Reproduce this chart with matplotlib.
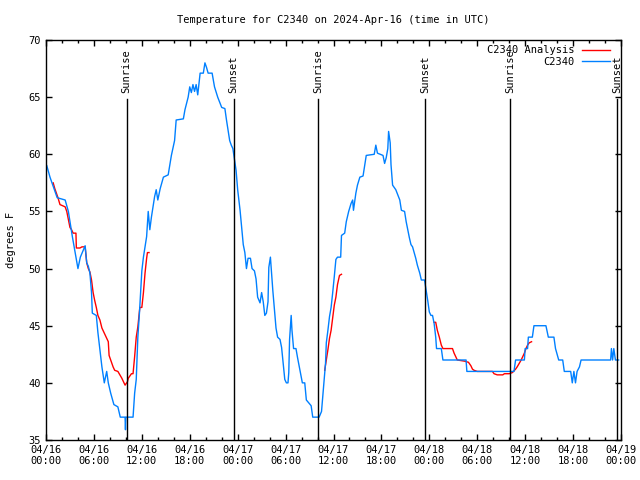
import numpy as np
import matplotlib
matplotlib.use("Agg")
import matplotlib.pyplot as plt

nan = np.nan

# --- data (hours since 2024-04-16 00:00 UTC, degrees F) ---
obs_hours = [0.1, 0.5, 0.9, 1.4, 2.4, 2.8, 3.3, 3.6, 4.0, 4.3, 4.9, 5.1, 5.3, 5.5, 5.7, 5.8,
             6.3, 6.5, 6.8, 7.0, 7.3, 7.6, 7.8, 8.1, 8.5, 9.0, 9.3, 9.9, 9.95, 10.0, 10.9,
             11.1, 11.3, 11.5, 11.7, 12.0, 12.2, 12.6, 12.8, 13.0, 13.2, 13.6, 13.8, 14.0,
             14.3, 14.7, 15.3, 15.7, 16.1, 16.3, 17.2, 17.4, 17.8, 18.0, 18.2, 18.4, 18.6,
             18.8, 19.0, 19.3, 19.7, 19.9, 20.1, 20.3, 20.8, 21.1, 21.5, 22.0, 22.4, 22.6,
             23.0, 23.2, 23.4, 23.8, 24.0, 24.3, 24.5, 24.7, 24.9, 25.1, 25.3, 25.6, 25.8,
             26.1, 26.3, 26.5, 26.8, 27.0, 27.2, 27.4, 27.6, 27.8, 27.9, 28.1, 28.2, 28.4,
             28.6, 28.8, 29.0, 29.3, 29.5, 29.7, 29.9, 30.1, 30.3, 30.4, 30.5, 30.7, 30.8,
             31.0, 31.3, 31.5, 31.8, 32.1, 32.4, 32.6, 33.2, 33.4, 34.2, 34.5, 34.8, 35.0,
             35.1, 35.3, 35.5, 35.7, 35.9, 36.1, 36.3, 36.5, 36.9, 37.0, 37.4, 37.6, 37.9,
             38.2, 38.4, 38.5, 38.8, 39.0, 39.3, 39.7, 40.1, 41.1, 41.3, 41.5, 42.2, 42.4,
             42.6, 42.8, 42.9, 43.1, 43.2, 43.4, 43.8, 44.3, 44.5, 44.9, 45.1, 45.3, 45.5,
             45.7, 45.9, 46.1, 46.3, 46.5, 46.8, 47.0, 47.4, 47.6, 47.8, 48.0, 48.2, 48.4,
             48.6, 48.8, 48.9, 49.5, 49.7, 52.6, 52.7, 58.6, 58.8, 59.9, 60.0, 60.3, 60.4,
             60.9, 61.1, 62.6, 62.9, 63.6, 63.8, 64.2, 64.7, 64.9, 65.7, 65.9, 66.1, 66.3,
             66.5, 66.8, 67.0, 70.7, 70.8, 70.95, 71.1, 71.3, 71.7]
obs_temps = [59.0, 58.0, 57.2, 56.2, 56.0, 55.0, 52.8, 51.6, 50.0, 51.0, 52.0, 50.5, 50.2, 49.6, 47.9, 46.1,
             45.9, 44.4, 42.6, 41.4, 40.0, 41.0, 40.0, 39.1, 38.1, 37.9, 37.0, 37.0, 35.9, 37.0, 37.0,
             39.1, 40.3, 44.0, 46.1, 49.8, 51.0, 52.8, 55.0, 53.4, 54.5, 56.3, 56.9, 56.0,
             57.0, 58.0, 58.2, 59.9, 61.2, 63.0, 63.1, 63.9, 65.0, 65.9, 65.4, 66.1, 65.5,
             66.1, 65.2, 67.1, 67.1, 68.0, 67.6, 67.1, 67.1, 65.9, 65.0, 64.1, 64.0, 63.0,
             61.2, 60.8, 60.5, 58.6, 56.9, 55.1, 53.6, 52.1, 51.4, 50.0, 50.9, 50.9, 50.0,
             49.8, 49.1, 47.5, 47.0, 47.9, 47.1, 45.9, 46.1, 47.1, 50.1, 51.0, 50.0, 48.1,
             46.4, 44.8, 44.0, 43.8, 43.1, 41.7, 40.3, 40.0, 40.0, 40.9, 43.8, 45.9, 44.6,
             43.0, 43.0, 42.2, 41.1, 40.0, 40.0, 38.5, 38.0, 37.0, 37.0, 37.5, 40.0, 41.7,
             43.5, 44.6, 45.8, 46.6, 47.9, 49.3, 50.8, 51.0, 51.0, 52.9, 53.1, 54.1, 55.0,
             55.7, 56.0, 55.1, 56.6, 57.3, 58.0, 58.1, 59.9, 60.0, 60.8, 60.1, 59.9, 59.2,
             59.7, 60.5, 62.0, 61.0, 59.1, 57.3, 56.9, 56.0, 55.1, 55.0, 54.1, 53.4, 52.7,
             52.1, 51.9, 51.4, 50.9, 50.3, 49.6, 49.0, 49.0, 48.1, 47.2, 46.2, 45.9, 45.9,
             45.2, 44.0, 43.0, 43.0, 42.0, 42.0, 41.0, 41.0, 42.0, 42.0, 43.0, 43.0, 44.0,
             44.0, 45.0, 45.0, 44.0, 44.0, 43.0, 42.0, 42.0, 41.0, 41.0, 40.0, 41.0, 40.0,
             41.0, 41.4, 42.0, 42.0, 43.0, 42.0, 43.0, 42.0, 42.0]

# analysis series, NaN marks gaps between runs
ana_hours = [0.9, 1.1, 1.3, 1.5, 1.75, 2.4, 2.6, 3.0, 3.2, 3.4, 3.75, 3.8, 4.25, 4.5, 4.9, 5.1,
             5.3, 5.5, 5.7, 5.9, 6.1, 6.3, 6.5, 6.75, 7.0, 7.4, 7.6, 7.8, 7.9, 8.2, 8.4, 8.6,
             9.0, 9.5, 9.9, 10.2, 10.3, 10.7, 10.9, 11.1, 11.3, 11.5, 11.75, 12.0, 12.2, 12.4,
             12.6, 12.7, 12.9, nan,
             34.9, 35.1, 35.3, 35.5, 35.7, 35.9, 36.1, 36.3, 36.5, 36.75, 37.0, nan,
             48.6, 48.8, 49.0, 49.25, 49.5, 49.7, 50.9, 51.1, 51.3, 51.5, 52.4, 52.9, 53.2,
             53.4, 53.6, 54.0, 55.9, 56.1, 56.5, 57.2, 57.4, 58.0, 58.4, 58.8, 59.0, 59.25,
             59.5, 59.7, 59.9, 60.1, 60.3, 60.5, 60.8]
ana_temps = [57.5, 57.0, 56.6, 56.2, 55.6, 55.4, 55.0, 53.6, 53.4, 53.1, 53.1, 51.8, 51.8, 51.9, 51.9, 50.5,
             50.0, 49.7, 49.0, 47.9, 47.2, 46.6, 45.9, 45.5, 44.8, 44.2, 43.9, 43.6, 42.4, 41.8, 41.4, 41.1,
             41.0, 40.4, 39.8, 40.1, 40.4, 40.8, 40.8, 42.3, 44.0, 44.9, 46.6, 46.6, 47.9, 49.6,
             50.9, 51.4, 51.4, nan,
             41.1, 42.0, 42.9, 43.9, 44.6, 45.7, 46.8, 47.5, 48.6, 49.4, 49.5, nan,
             45.3, 45.3, 44.6, 44.0, 43.3, 43.0, 43.0, 42.6, 42.3, 42.0, 41.9, 41.8, 41.5,
             41.2, 41.1, 41.0, 41.0, 40.8, 40.7, 40.7, 40.8, 40.8, 40.9, 41.2, 41.4, 41.7,
             42.0, 42.3, 42.6, 43.0, 43.3, 43.5, 43.6]

sun_hours = [10.1, 23.5, 34.1, 47.5, 58.1, 71.5]
sun_labels = ["Sunrise", "Sunset", "Sunrise", "Sunset", "Sunrise", "Sunset"]

tick_hours = [0, 6, 12, 18, 24, 30, 36, 42, 48, 54, 60, 66, 72]
tick_labels = ["04/16\n00:00", "04/16\n06:00", "04/16\n12:00", "04/16\n18:00",
               "04/17\n00:00", "04/17\n06:00", "04/17\n12:00", "04/17\n18:00",
               "04/18\n00:00", "04/18\n06:00", "04/18\n12:00", "04/18\n18:00",
               "04/19\n00:00"]

plt.rcParams['font.family'] = ['DejaVu Sans Mono']
plt.rcParams['font.size'] = 7

fig = plt.figure(figsize=(6.4, 4.8), dpi=100)
ax = fig.add_axes([46 / 640, 40 / 480, 575 / 640, 400 / 480])

ax.plot(ana_hours, ana_temps, color="#ff0000", lw=1, label="C2340 Analysis")
ax.plot(obs_hours, obs_temps, color="#0080ff", lw=1, label="C2340")

# sunrise / sunset markers
for h, lab in zip(sun_hours, sun_labels):
    ax.plot([h, h], [35, 64.8], color="black", lw=1)
    ax.text(h, 65.4, lab, rotation=90, ha="center", va="bottom", fontsize=7.5)

ax.set_xlim(0, 72)
ax.set_ylim(35, 70)
ax.set_xticks(tick_hours)
ax.set_xticklabels(tick_labels)
ax.set_xticks(np.arange(0, 73, 2), minor=True)
ax.set_yticks(np.arange(35, 71, 5))
ax.tick_params(which="both", direction="in", top=True, right=True, width=1)
ax.tick_params(which="major", length=4, labelsize=7.5)
ax.tick_params(which="minor", length=2.5)
for s in ax.spines.values():
    s.set_linewidth(1)

ax.set_ylabel("degrees F", fontsize=7.5, labelpad=9)
ax.set_title("Temperature for C2340 on 2024-Apr-16 (time in UTC)", fontsize=7.5, pad=12)

ax.legend(loc="upper right", frameon=False, markerfirst=False, fontsize=7.5,
          handlelength=2.7, handletextpad=0.75, labelspacing=0.15,
          borderaxespad=0.1, bbox_to_anchor=(0.99, 1.0))

fig.savefig("out.png", dpi=100)
